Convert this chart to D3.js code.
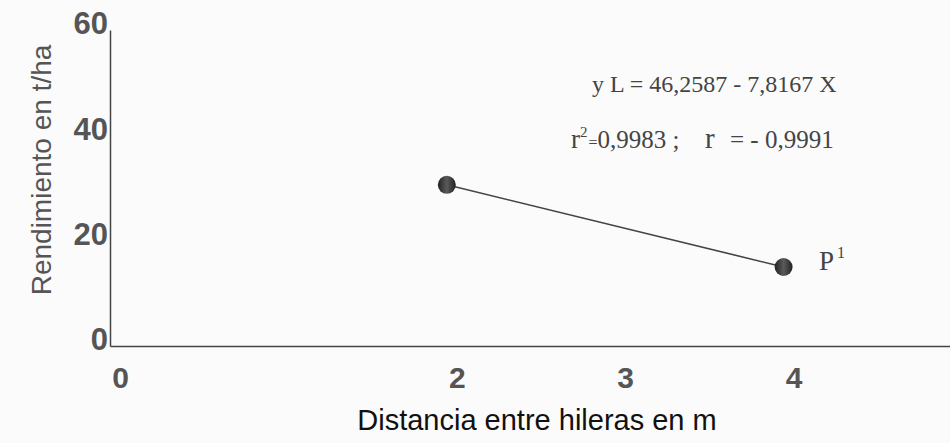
<!DOCTYPE html>
<html>
<head>
<meta charset="utf-8">
<script src="https://cdn.jsdelivr.net/npm/d3@7"></script>
<style>
  body{margin:0;background:#fbfbfb;}
  svg{display:block;}
  .tick text{font-family:"Liberation Sans",Arial,sans-serif;font-weight:bold;fill:#555;}
  .ann{font-family:"Liberation Serif","Times New Roman",serif;fill:#444;white-space:pre;}
</style>
</head>
<body>
<svg width="950" height="443"></svg>
<script>
// data
const distancia = [2, 4];
const rendimiento = [30.6, 15.0];
const xTicks = [0, 2, 3, 4];
const yTicks = [0, 20, 40, 60];

const svg = d3.select('svg');
const width = +svg.attr('width');
const height = +svg.attr('height');

const xScale = d3.scaleLinear().domain([0, 5]).range([110, 952]);
const yScale = d3.scaleLinear().domain([0, 60]).range([346, 30]);

// gradient for the dots (they look like little shaded balls)
const grad = svg.append('defs').append('linearGradient').attr('id', 'ball');
grad.append('stop').attr('offset', '0%').attr('stop-color', '#222');
grad.append('stop').attr('offset', '50%').attr('stop-color', '#5a5a5a');
grad.append('stop').attr('offset', '100%').attr('stop-color', '#222');

/* y axis */
const yAxis = d3.axisLeft(yScale).tickValues(yTicks).tickSize(0).tickPadding(2).tickFormat(d3.format('d'));
const gy = svg.append('g')
  .attr('transform', `translate(${xScale(0)},0)`)
  .call(yAxis);
gy.select('.domain').attr('stroke', '#444').attr('stroke-width', 1.5);
gy.selectAll('.tick text')
  .attr('font-size', 31)
  .attr('dy', '0.32em')
  .attr('transform', 'translate(0,-6)');

/* x axis */
const xAxis = d3.axisBottom(xScale).tickValues(xTicks).tickSize(0).tickPadding(21).tickFormat(d3.format('d'));
const gx = svg.append('g')
  .attr('transform', `translate(0,${yScale(0)})`)
  .call(xAxis);
gx.select('.domain').attr('stroke', '#444').attr('stroke-width', 1.5);
gx.selectAll('.tick text')
  .attr('font-size', 30)
  .attr('dx', 10);

// axis titles
svg.append('text')
  .attr('transform', 'translate(51,170) rotate(-90)')
  .attr('text-anchor', 'middle')
  .attr('font-family', '"Liberation Sans",Arial,sans-serif')
  .attr('font-size', 28)
  .attr('fill', '#555')
  .text('Rendimiento en t/ha');

svg.append('text')
  .attr('x', 537)
  .attr('y', 430)
  .attr('text-anchor', 'middle')
  .attr('font-family', '"Liberation Sans",Arial,sans-serif')
  .attr('font-size', 29)
  .attr('fill', '#111')
  .text('Distancia entre hileras en m');

/* line + points */
const pts = distancia.map((d, i) => [d, rendimiento[i]]);
const line = d3.line().x(d => xScale(d[0])).y(d => yScale(d[1]));
svg.append('path')
  .datum(pts)
  .attr('d', line)
  .attr('fill', 'none')
  .attr('stroke', '#444')
  .attr('stroke-width', 1.6);

svg.selectAll('circle.pt')
  .data(pts)
  .enter()
  .append('circle')
  .attr('class', 'pt')
  .attr('cx', d => xScale(d[0]))
  .attr('cy', d => yScale(d[1]))
  .attr('r', 9)
  .attr('fill', 'url(#ball)');

/* annotations */
svg.append('text')
  .attr('class', 'ann')
  .attr('x', 592)
  .attr('y', 92)
  .attr('font-size', 24)
  .text('y L = 46,2587 - 7,8167 X');

const r2 = svg.append('text')
  .attr('class', 'ann')
  .attr('x', 571)
  .attr('y', 148)
  .attr('font-size', 25);
r2.append('tspan').attr('font-size', 27).text('r');
r2.append('tspan').attr('font-size', 15).attr('dy', -11).text('2');
r2.append('tspan').attr('font-size', 16).attr('dy', 11).attr('dx', 1).text('=');
r2.append('tspan').text('0,9983 ;');
r2.append('tspan').attr('x', 705).attr('font-size', 29).text('r');
r2.append('tspan').attr('x', 730).text('= - 0,9991');

const p = svg.append('text')
  .attr('class', 'ann')
  .attr('x', 819)
  .attr('y', 270)
  .attr('font-size', 27);
p.append('tspan').text('P');
p.append('tspan').attr('font-size', 16).attr('dy', -12).attr('dx', 3).text('1');
</script>
</body>
</html>
